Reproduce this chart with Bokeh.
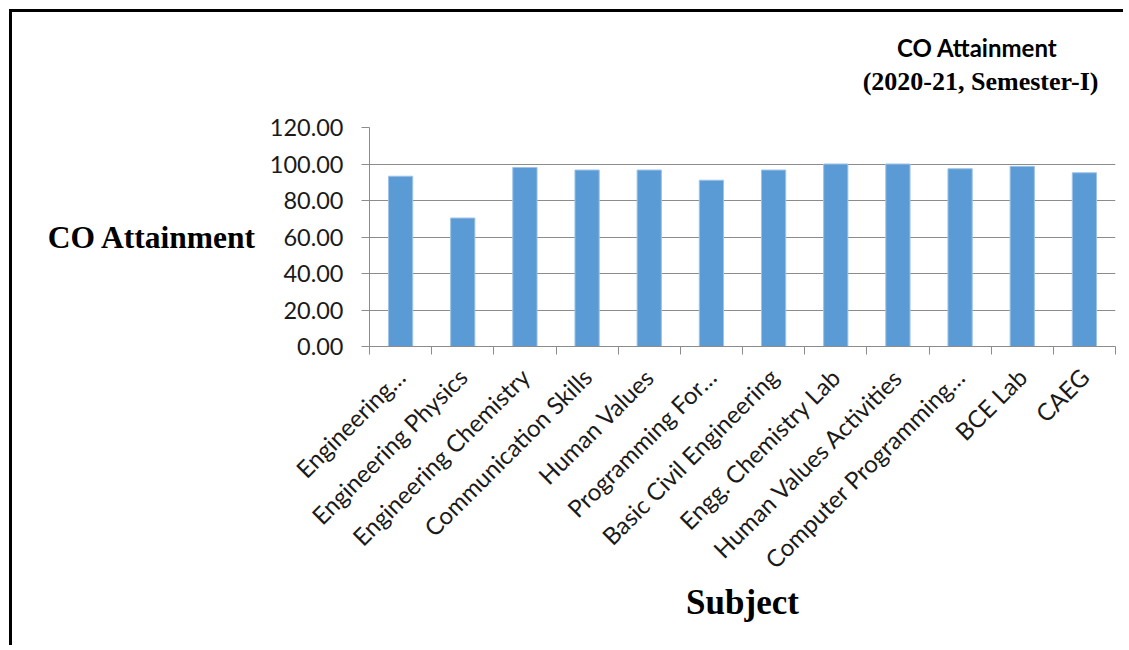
import math
from bokeh.plotting import figure
from bokeh.models import (ColumnDataSource, FixedTicker, NumeralTickFormatter,
                          Title, Range1d)
from bokeh.embed import file_html
from bokeh.resources import INLINE

# ---- data ----
subjects = ["Engineering…", "Engineering Physics", "Engineering Chemistry",
            "Communication Skills", "Human Values", "Programming For…",
            "Basic Civil Engineering", "Engg. Chemistry Lab",
            "Human Values Activities", "Computer Programming…", "BCE Lab", "CAEG"]
attainment = [93.3, 70.4, 98.1, 96.7, 96.7, 91.1, 96.7, 100.0, 100.0, 97.4, 98.7, 95.2]
y_ticks = [0, 20, 40, 60, 80, 100, 120]
title_line1 = "CO Attainment"
title_line2 = "(2020-21, Semester-I)"
y_title = "CO Attainment"
x_title = "Subject"

n = len(subjects)
centers = [i + 0.5 for i in range(n)]
boundaries = list(range(n + 1))

src = ColumnDataSource(dict(x=centers, v=attainment, name=subjects))

GRAY = "#8c8c8c"
p = figure(width=1114, height=636,
           x_range=Range1d(0, n), y_range=Range1d(y_ticks[0], y_ticks[-1]),
           output_backend="svg", toolbar_location=None,
           min_border_left=357, min_border_right=11,
           min_border_top=10, min_border_bottom=302)
p.outline_line_color = None
p.background_fill_color = "white"
p.border_fill_color = "white"
p.styles = {"border-top": "3px solid black", "border-left": "3px solid black",
            "margin-left": "9px", "margin-top": "9px"}

p.vbar(x="x", top="v", width=0.39, source=src,
       fill_color="#5B9BD5", line_color="#9DC3E6", line_width=1)

# x axis
xa = p.xaxis[0]
xa.ticker = FixedTicker(ticks=centers, minor_ticks=boundaries)
xa.major_label_overrides = {c: s for c, s in zip(centers, subjects)}
xa.major_label_orientation = math.pi / 4
xa.major_tick_in = 0
xa.major_tick_out = 0
xa.minor_tick_in = 0
xa.minor_tick_out = 8
xa.minor_tick_line_color = GRAY
xa.axis_line_color = GRAY
xa.major_label_text_font = "Lato"
xa.major_label_text_font_size = "24px"
xa.major_label_text_color = "#1a1a1a"
xa.major_label_standoff = 18
xa.axis_label = x_title
xa.axis_label_text_font = "Liberation Serif"
xa.axis_label_text_font_style = "bold"
xa.axis_label_text_font_size = "35px"
xa.axis_label_text_color = "black"
xa.axis_label_standoff = -4
p.xgrid.visible = False

# y axis
ya = p.yaxis[0]
ya.ticker = FixedTicker(ticks=y_ticks)
ya.formatter = NumeralTickFormatter(format="0.00")
ya.major_tick_in = 0
ya.major_tick_out = 8
ya.major_tick_line_color = GRAY
ya.minor_tick_line_color = None
ya.axis_line_color = GRAY
ya.major_label_text_font = "Lato"
ya.major_label_text_font_size = "23.5px"
ya.major_label_text_color = "#1a1a1a"
ya.major_label_standoff = 18
ya.axis_label = y_title
ya.axis_label_orientation = "horizontal"
ya.axis_label_text_font = "Liberation Serif"
ya.axis_label_text_font_style = "bold"
ya.axis_label_text_font_size = "31.5px"
ya.axis_label_text_color = "black"
ya.axis_label_standoff = 10
p.ygrid.ticker = FixedTicker(ticks=y_ticks)
p.ygrid.grid_line_color = GRAY
p.ygrid.grid_line_width = 1

# two-line title, right aligned above the frame (spacer nearest the frame)
spacer = Title(text=" ", text_font_size="2px", standoff=44)
t2 = Title(text=title_line2, align="right", offset=17,
           text_font="Liberation Serif", text_font_style="bold",
           text_font_size="26px", text_color="black", standoff=-32)
t1 = Title(text=title_line1, align="right", offset=58,
           text_font="Lato", text_font_style="bold",
           text_font_size="24px", text_color="black", standoff=36)
p.add_layout(spacer, "above")
p.add_layout(t2, "above")
p.add_layout(t1, "above")

open("out.html", "w").write(file_html(p, INLINE))
